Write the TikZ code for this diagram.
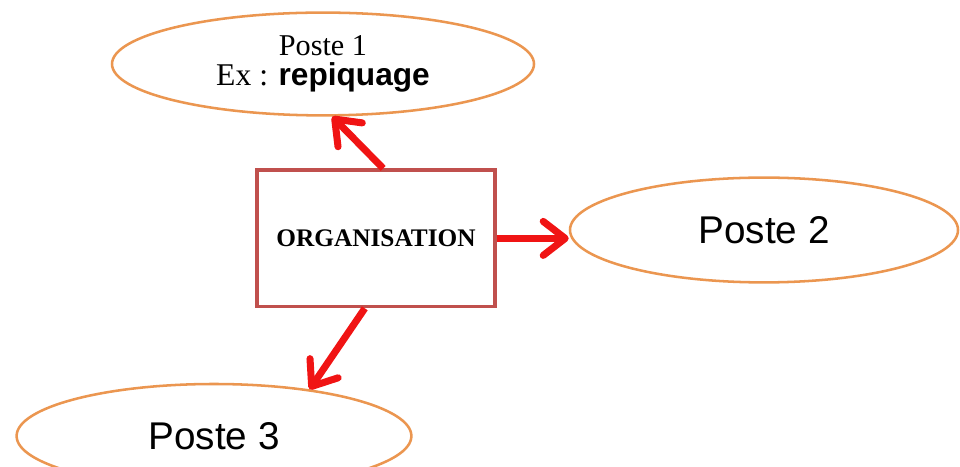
\documentclass[tikz,border=0pt]{standalone}
\usepackage{fontspec}
\setmainfont{Liberation Serif}
\newfontfamily\arialfont{Liberation Sans}
\definecolor{PosteOrange}{RGB}{235, 150, 80}
\definecolor{OrgRed}{RGB}{192, 80, 77}
\definecolor{ArrowRed}{RGB}{240, 20, 20}
\usepackage{tikz}
\usetikzlibrary{arrows.meta, positioning, shapes, calc}

\begin{document}
\begin{tikzpicture}[
            poste/.style={ellipse, draw=PosteOrange, line width=1.8pt, fill=white, align=center, inner sep=0pt},
            orgbox/.style={rectangle, draw=OrgRed, line width=2.2pt, fill=white, minimum width=5.95cm, minimum height=3.42cm, font=\fontsize{18}{21}\selectfont\bfseries},
            fleche/.style={draw=ArrowRed, line width=5pt, -{Straight Barb[length=5.5mm, width=8.5mm, round]}},
        ]
            \clip (0,0) rectangle (24,-11.675);
            \node[orgbox] (org) at (9.4,-5.96) {ORGANISATION};
            \node[poste, minimum width=10.55cm, minimum height=2.57cm, font=\fontsize{22.5}{21}\selectfont] (p1) at (8.075,-1.6) {{\fontsize{21.5}{21}\selectfont Poste 1}\\Ex : {\arialfont\bfseries repiquage}};
            \node[poste, minimum width=9.7cm, minimum height=2.62cm, font=\fontsize{27.5}{30}\selectfont\arialfont] (p2) at (19.1,-5.75) {Poste 2};
            \node[poste, minimum width=9.87cm, minimum height=2.6cm, font=\fontsize{27.5}{30}\selectfont\arialfont] (p3) at (5.35,-10.9) {Poste 3};
            % arrows out of the box
            \draw[fleche] ([xshift=0.18cm]org.north) -- (p1.280);
            \draw[fleche] (org.east) -- (org.east -| p2.west);
            \draw[fleche] ([xshift=-0.28cm]org.south) -- (p3.26);
        \end{tikzpicture}
\end{document}
